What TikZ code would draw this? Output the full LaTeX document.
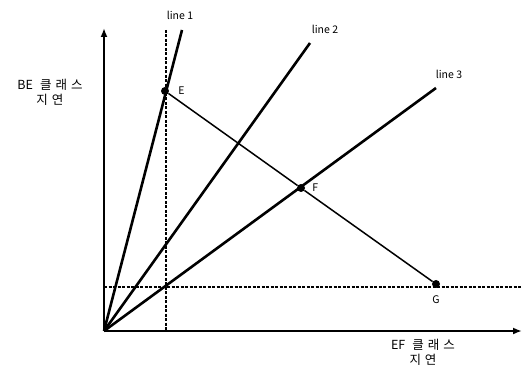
\documentclass[tikz,border=0pt]{standalone}
\usepackage{fontspec}
\setmainfont{Noto Sans CJK KR}
\usetikzlibrary{arrows.meta,positioning}
\newcommand{\kspace}[1]{{\addfontfeature{LetterSpace=32}#1}\hspace{-3.5pt}}

\begin{document}
\begin{tikzpicture}[
  x=1pt,y=-1pt,
  font=\fontsize{10.5}{11}\selectfont,
  axis/.style={line width=2.4pt,-{Latex[length=9pt,width=7pt]}},
  ray/.style={line width=2.6pt},
  path/.style={line width=1.5pt},
  guide/.style={line width=1.2pt,dash pattern=on 3pt off 1.5pt},
  pt/.style={circle,fill=black,inner sep=0pt,minimum size=8pt},
  lbl/.style={inner sep=1pt},
  axlbl/.style={inner sep=1pt,align=center,font=\fontsize{12.5}{15}\selectfont}
]
\useasboundingbox (0,0) rectangle (525,366);

% Points
\coordinate (O) at (104,331);
\node[pt] (E) at (165,91) {};
\node[pt] (F) at (301,188) {};
\node[pt] (G) at (436,284) {};
\coordinate (ytop) at (104,28);
\coordinate (xend) at (522,331);
\coordinate (vtop) at (166,30);
\coordinate (vbot) at (166,331);
\coordinate (hl) at (104,287);
\coordinate (hr) at (522,287);
\coordinate (l1) at (182,30);
\coordinate (l2) at (310,43);
\coordinate (l3) at (436,88);

% Guides
\draw[guide] (vtop) -- (vbot);
\draw[guide] (hl) -- (hr);

% Axes
\draw[axis] (O) -- (ytop);
\draw[axis] (O) -- (xend);

% Rays
\draw[ray] (O) -- (l1);
\draw[ray] (O) -- (l2);
\draw[ray] (O) -- (l3);

% E-F-G
\draw[path] (E) -- (F) -- (G);

% Labels
\node[lbl] (t1) at (180,15) {line 1};
\node[lbl] (t2) at (325,29) {line 2};
\node[lbl] (t3) at (449,74) {line 3};
\node[lbl,right=8pt of E] (tE) {E};
\node[lbl,right=6pt of F] (tF) {F};
\node[lbl,below=6pt of G] (tG) {G};
\node[axlbl] (ylab) at (50,92) {BE\hspace{7pt}\kspace{클래스}\\\kspace{지연}};
\node[axlbl] (xlab) at (423,352) {EF\hspace{7pt}\kspace{클래스}\\\kspace{지연}};
\end{tikzpicture}
\end{document}
